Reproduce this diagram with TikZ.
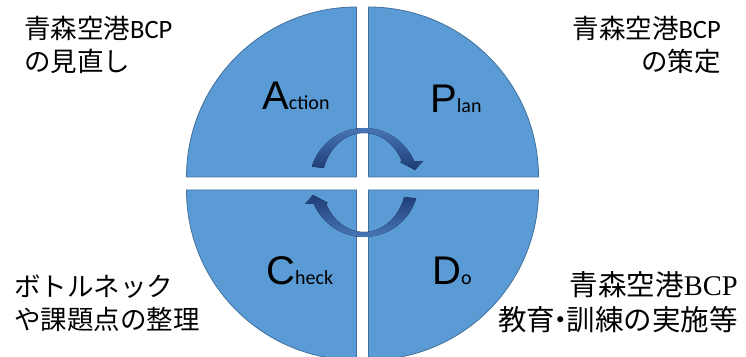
\documentclass[tikz,border=0pt]{standalone}
\usepackage{fontspec}
\setmainfont{Noto Sans CJK JP}
\newfontfamily\bcpfont{Carlito}
\newfontfamily\bcpserif{Liberation Serif}
\newfontfamily\pdcafont{Liberation Sans}
\usepackage{tikz}
\usetikzlibrary{positioning}
\definecolor{quadfill}{HTML}{5B9BD5}
\definecolor{quadline}{HTML}{41719C}
\definecolor{turnlight}{HTML}{4F7EC2}
\definecolor{turndark}{HTML}{1E3C74}
\newcommand{\pdcalabel}[2]{{\pdcafont\fontsize{40}{40}\selectfont #1}{\bcpfont\fontsize{20}{20}\selectfont #2}}

\begin{document}
\begin{tikzpicture}[
        x=1pt, y=1pt,
        quadrant/.style={fill=quadfill, draw=quadline, line width=0.8pt},
        caption/.style={inner sep=0pt, font=\fontsize{26.5}{33}\selectfont},
        letter/.style={inner sep=0pt, anchor=base west},
    ]
    \useasboundingbox (0,0) rectangle (746,356);
    \clip (0,0) rectangle (746,356);

    % Four quarter discs
    \draw[quadrant] (356.5,179) -- ++(-170,0) arc[start angle=180, end angle=90, radius=170] -- cycle;
    \draw[quadrant] (368.5,179) -- ++(0,170) arc[start angle=90, end angle=0, radius=170] -- cycle;
    \draw[quadrant] (356.5,166) -- ++(0,-170) arc[start angle=270, end angle=180, radius=170] -- cycle;
    \draw[quadrant] (368.5,166) -- ++(170,0) arc[start angle=0, end angle=-90, radius=170] -- cycle;

    % Cycle arrows in the middle
    \begin{scope}[shift={(364,173.5)}]
        \fill[top color=turnlight, bottom color=turndark]
            (163:54.5) arc[start angle=163, end angle=22.7, radius=54.5]
            -- (59,21.5) -- (51,12.5) -- (36,20.5)
            -- (25.1:42 and 49.5) arc[start angle=25.1, end angle=163, x radius=42, y radius=49.5] -- cycle;
        \fill[top color=turndark, bottom color=turnlight]
            (343:54.5) arc[start angle=343, end angle=202.7, radius=54.5]
            -- (-59,-21.5) -- (-51,-12.5) -- (-36,-20.5)
            -- (205.1:42 and 49.5) arc[start angle=205.1, end angle=343, x radius=42, y radius=49.5] -- cycle;
    \end{scope}

    % PDCA letters
    \node[letter] (act) at (262,246) {\pdcalabel{A}{ction}};
    \node[letter] (plan) at (430,243) {\pdcalabel{P}{lan}};
    \node[letter] (chk) at (266,71) {\pdcalabel{C}{heck}};
    \node[letter] (do) at (432,71) {\pdcalabel{D}{o}};

    % Corner captions
    \node[caption, anchor=base west, align=left] (review) at (24,284) {青森空港{\bcpfont BCP}\\の見直し};
    \node[caption, anchor=base east, align=right] (draft) at (721,284) {青森空港{\bcpfont BCP}\\の策定};
    \node[caption, anchor=base west, align=left] (issues) at (14,27) {ボトルネック\\や課題点の整理};
    \node[caption, anchor=base east, align=right, font=\fontsize{28.5}{35}\selectfont] (drill) at (738,26) {青森空港{\bcpserif BCP}\\教育\kern-.3em・\kern-.3em 訓練の実施等};

\end{tikzpicture}
\end{document}
